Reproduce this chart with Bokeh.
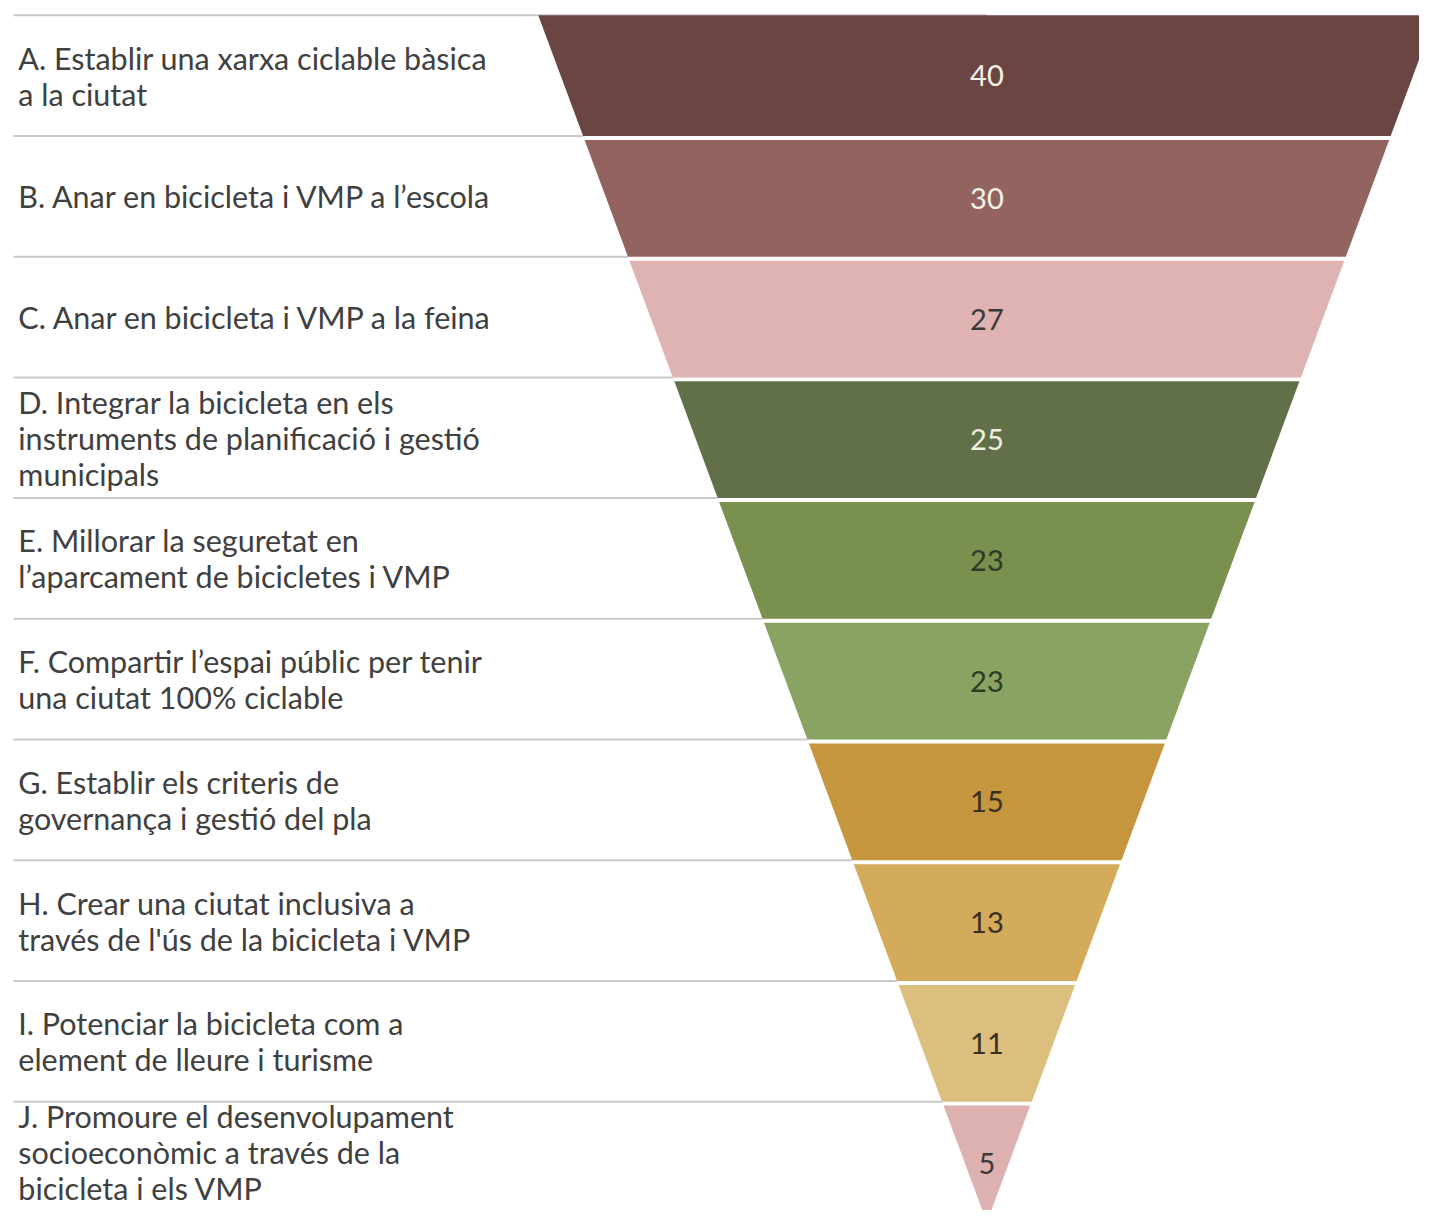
from bokeh.plotting import figure
from bokeh.models import Range1d, ColumnDataSource
from bokeh.core.properties import value
from bokeh.embed import file_html
from bokeh.resources import INLINE

# ---- data ----
labels = [
    "A. Establir una xarxa ciclable bàsica\na la ciutat",
    "B. Anar en bicicleta i VMP a l’escola",
    "C. Anar en bicicleta i VMP a la feina",
    "D. Integrar la bicicleta en els\ninstruments de planificació i gestió\nmunicipals",
    "E. Millorar la seguretat en\nl’aparcament de bicicletes i VMP",
    "F. Compartir l’espai públic per tenir\nuna ciutat 100% ciclable",
    "G. Establir els criteris de\ngovernança i gestió del pla",
    "H. Crear una ciutat inclusiva a\ntravés de l'ús de la bicicleta i VMP",
    "I. Potenciar la bicicleta com a\nelement de lleure i turisme",
    "J. Promoure el desenvolupament\nsocioeconòmic a través de la\nbicicleta i els VMP",
]
values = [40, 30, 27, 25, 23, 23, 15, 13, 11, 5]
colors = ["#6b4541", "#936360", "#dfb3b1", "#617049", "#79904f",
          "#89a363", "#c6963f", "#d3ab5b", "#dcbf7f", "#deb1b1"]
value_colors = ["#f7f2ea", "#f7f2ea", "#3a3a3a", "#f1f0e0", "#2e3a22",
                "#2e3a22", "#3a3020", "#3a3020", "#3a3020", "#3a3a3a"]

# ---- layout geometry (pixel-like data units) ----
TOP = 15.0
APEX = 1238.0
CX = 997.5
HALF_TOP = 453.7
GAP = 4.0
YMAX = 1226.0
LINE_PX = 36.8
n = len(values)
ROW = (APEX - TOP) / n

def half_at(y):
    return HALF_TOP * (APEX - y) / (APEX - TOP)

xs, ys, cy, ly = [], [], [], []
for i in range(n):
    t = TOP + ROW * i + (GAP if i > 0 else 0.0)
    b = TOP + ROW * (i + 1)
    ht, hb = half_at(t), half_at(b)
    xs.append([CX - ht, CX + ht, CX + hb, CX - hb])
    ys.append([t, t, b, b])
    cy.append((t + b) / 2)
    nlines = labels[i].count("\n") + 1
    ly.append(min(TOP + ROW * (i + 0.5), YMAX - 4 - nlines * LINE_PX / 2))

p = figure(width=1419, height=1210, output_backend="svg", toolbar_location=None,
           x_range=Range1d(0, 1435), y_range=Range1d(YMAX, 0),
           min_border=0, outline_line_color=None, background_fill_color="white",
           border_fill_color="white")
p.axis.visible = False
p.grid.visible = False

# separator lines
sx, sy = [], []
for k in range(n):
    y = TOP + ROW * k
    x_end = CX if k == 0 else CX - half_at(y)
    sx.append([13, x_end])
    sy.append([y, y])
p.multi_line(xs=sx, ys=sy, line_color="#c9c9c9", line_width=2)

src = ColumnDataSource(dict(xs=xs, ys=ys, color=colors))
p.patches(xs="xs", ys="ys", fill_color="color", line_color=None, source=src)

tsrc = ColumnDataSource(dict(x=[CX] * n, y=cy, v=[str(v) for v in values], c=value_colors))
p.text(x="x", y="y", text="v", text_color="c", source=tsrc,
       text_font=value("Lato"), text_font_size="29px",
       text_align="center", text_baseline="middle")

lsrc = ColumnDataSource(dict(x=[18] * n, y=ly, t=labels))
p.text(x="x", y="y", text="t", source=lsrc, text_color="#404040",
       text_font=value("Lato"), text_font_size="30.5px",
       text_align="left", text_baseline="middle", text_line_height=1.0)

open("out.html", "w").write(file_html(p, INLINE))
